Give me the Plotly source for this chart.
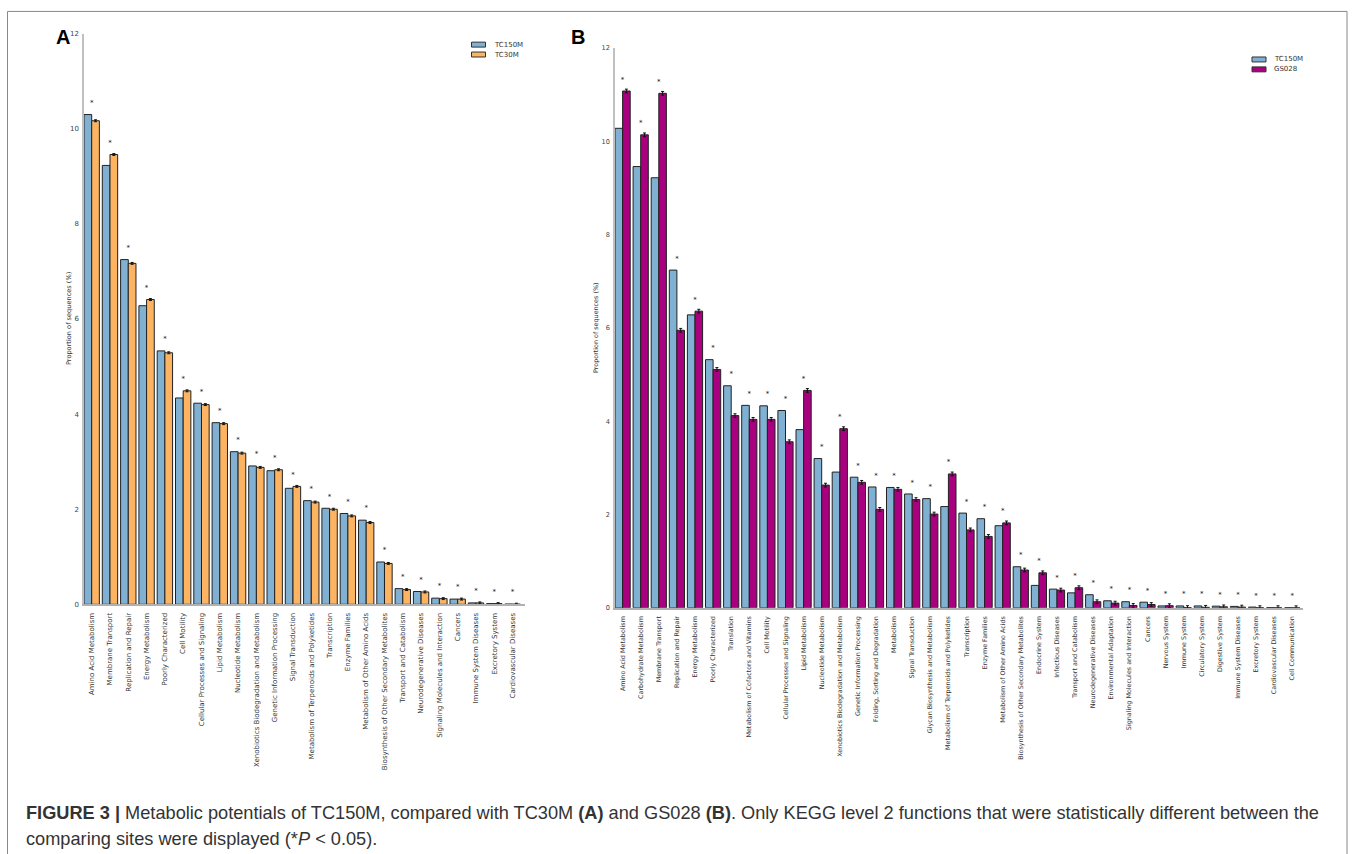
import plotly.graph_objects as go

W, H = 1355, 854

# ---------------- data ----------------
cats_a = ["Amino Acid Metabolism", "Membrane Transport", "Replication and Repair", "Energy Metabolism",
          "Poorly Characterized", "Cell Motility", "Cellular Processes and Signaling", "Lipid Metabolism",
          "Nucleotide Metabolism", "Xenobiotics Biodegradation and Metabolism", "Genetic Information Processing",
          "Signal Transduction", "Metabolism of Terpenoids and Polyketides", "Transcription", "Enzyme Families",
          "Metabolism of Other Amino Acids", "Biosynthesis of Other Secondary Metabolites",
          "Transport and Catabolism", "Neurodegenerative Diseases", "Signaling Molecules and Interaction",
          "Cancers", "Immune System Diseases", "Excretory System", "Cardiovascular Diseases"]
tc150m_a = [10.30, 9.23, 7.25, 6.28, 5.33, 4.34, 4.23, 3.82, 3.21, 2.91, 2.81, 2.44, 2.18, 2.02, 1.91,
            1.77, 0.89, 0.33, 0.27, 0.13, 0.11, 0.03, 0.015, 0.005]
tc30m_a = [10.17, 9.46, 7.17, 6.41, 5.29, 4.49, 4.20, 3.80, 3.18, 2.88, 2.83, 2.48, 2.15, 2.00, 1.86,
           1.72, 0.86, 0.31, 0.26, 0.12, 0.11, 0.03, 0.015, 0.003]

cats_b = ["Amino Acid Metabolism", "Carbohydrate Metabolism", "Membrane Transport", "Replication and Repair",
          "Energy Metabolism", "Poorly Characterized", "Translation", "Metabolism of Cofactors and Vitamins",
          "Cell Motility", "Cellular Processes and Signaling", "Lipid Metabolism", "Nucleotide Metabolism",
          "Xenobiotics Biodegradation and Metabolism", "Genetic Information Processing",
          "Folding, Sorting and Degradation", "Metabolism", "Signal Transduction",
          "Glycan Biosynthesis and Metabolism", "Metabolism of Terpenoids and Polyketides", "Transcription",
          "Enzyme Families", "Metabolism of Other Amino Acids", "Biosynthesis of Other Secondary Metabolites",
          "Endocrine System", "Infectious Diseases", "Transport and Catabolism", "Neurodegenerative Diseases",
          "Environmental Adaptation", "Signaling Molecules and Interaction", "Cancers", "Nervous System",
          "Immune System", "Circulatory System", "Digestive System", "Immune System Diseases",
          "Excretory System", "Cardiovascular Diseases", "Cell Communication"]
tc150m_b = [10.28, 9.46, 9.22, 7.24, 6.28, 5.32, 4.76, 4.34, 4.33, 4.23, 3.82, 3.20, 2.91, 2.80, 2.59,
            2.58, 2.44, 2.34, 2.17, 2.03, 1.91, 1.76, 0.88, 0.48, 0.40, 0.32, 0.28, 0.15, 0.13, 0.12,
            0.04, 0.04, 0.04, 0.035, 0.03, 0.015, 0.005, 0.003]
gs028_b = [11.08, 10.14, 11.03, 5.95, 6.36, 5.11, 4.12, 4.04, 4.04, 3.56, 4.66, 2.63, 3.84, 2.69, 2.11,
           2.54, 2.32, 2.01, 2.87, 1.67, 1.53, 1.82, 0.81, 0.75, 0.38, 0.43, 0.13, 0.10, 0.05, 0.07,
           0.045, 0.005, 0.01, 0.02, 0.015, 0.003, 0.003, 0.001]

y_ticks = [0, 2, 4, 6, 8, 10, 12]

BLUE = "#80b1d3"
ORANGE = "#fdb462"
MAGENTA = "#a8007e"
TICKFONT = "DejaVu Sans"


def px(x):
    return x / W


def py(y):
    return 1 - y / H


BW = 0.42
fig = go.Figure()


def add_panel(cats, s1, s2, c2, name1, name2, xa, ya, err):
    fig.add_trace(go.Bar(x=cats, y=s1, name=name1, marker=dict(color=BLUE, line=dict(color="#222", width=1)),
                         width=BW, offset=-BW, xaxis=xa, yaxis=ya, showlegend=False))
    fig.add_trace(go.Bar(x=cats, y=s2, name=name2, marker=dict(color=c2, line=dict(color="#222", width=1)),
                         width=BW, offset=0, xaxis=xa, yaxis=ya, showlegend=False,
                         error_y=dict(type="constant", value=err, color="#111", thickness=1, width=1.5)))
    star_y = [max(a, b) + 0.24 for a, b in zip(s1, s2)]
    fig.add_trace(go.Scatter(x=cats, y=star_y, mode="text", text=["*"] * len(cats),
                             textfont=dict(size=7, color="#111", family=TICKFONT),
                             textposition="middle center", xaxis=xa, yaxis=ya, showlegend=False,
                             hoverinfo="skip"))


add_panel(cats_a, tc150m_a, tc30m_a, ORANGE, "TC150M", "TC30M", "x", "y", 0.02)
add_panel(cats_b, tc150m_b, gs028_b, MAGENTA, "TC150M", "GS028", "x2", "y2", 0.04)

# panel geometry (pixels)
A_x0, A_x1, A_y0, A_y1 = 84, 525, 606, 30
B_x0, B_x1, B_y0, B_y1 = 615, 1303, 609.5, 44.5
pitch_a = 18.3
pitch_b = 18.1

xcommon = dict(type="category", showgrid=False, zeroline=False, ticks="", tickangle=-90,
               showline=True, linecolor="#b0b0b0", linewidth=1.5, ticklabelstandoff=4)
ycommon = dict(range=[0, 12], tickvals=y_ticks, showgrid=False, zeroline=False, ticks="",
               showline=True, linecolor="#c0c0c0", linewidth=1.5, ticklabelstandoff=2)

fig.update_layout(
    width=W, height=H, margin=dict(l=0, r=0, t=0, b=0), autosize=False,
    paper_bgcolor="white", plot_bgcolor="white", showlegend=False,
    xaxis=dict(domain=[px(A_x0), px(A_x1)], anchor="y",
               range=[-BW, -BW + (A_x1 - A_x0) / pitch_a],
               tickfont=dict(size=7, color="#333", family=TICKFONT), **xcommon),
    yaxis=dict(domain=[py(A_y0), py(A_y1)], anchor="x",
               tickfont=dict(size=7, color="#444", family=TICKFONT), **ycommon),
    xaxis2=dict(domain=[px(B_x0), px(B_x1)], anchor="y2",
                range=[-BW, -BW + (B_x1 - B_x0) / pitch_b],
                tickfont=dict(size=6.4, color="#333", family=TICKFONT), **xcommon),
    yaxis2=dict(domain=[py(B_y0), py(B_y1)], anchor="x2",
                tickfont=dict(size=6.6, color="#444", family=TICKFONT), **ycommon),
)

ann = []
shapes = []
# y-axis titles
ann.append(dict(x=px(63), y=py((A_y0 + A_y1) / 2), xref="paper", yref="paper", text="Proportion of sequences (%)",
                textangle=-90, showarrow=False, font=dict(size=6.6, color="#333", family=TICKFONT)))
ann.append(dict(x=px(596), y=py((B_y0 + B_y1) / 2), xref="paper", yref="paper", text="Proportion of sequences (%)",
                textangle=-90, showarrow=False, font=dict(size=6.4, color="#333", family=TICKFONT)))
# panel letters
ann.append(dict(x=px(54), y=py(33), xref="paper", yref="paper", text="<b>A</b>", showarrow=False,
                xanchor="left", yanchor="middle", font=dict(size=20, color="#000", family="Liberation Sans")))
ann.append(dict(x=px(569), y=py(33), xref="paper", yref="paper", text="<b>B</b>", showarrow=False,
                xanchor="left", yanchor="middle", font=dict(size=20, color="#000", family="Liberation Sans")))

# legends
def legend(x0, y0, items):
    for i, (lab, col) in enumerate(items):
        yc = y0 + i * 10
        shapes.append(dict(type="rect", xref="paper", yref="paper", x0=px(x0), x1=px(x0 + 14),
                           y0=py(yc - 2.5), y1=py(yc + 2.5), fillcolor=col, line=dict(color="#333", width=1)))
        ann.append(dict(x=px(x0 + 20), y=py(yc), xref="paper", yref="paper", text=lab, showarrow=False,
                        xanchor="left", yanchor="middle", font=dict(size=7, color="#333", family=TICKFONT)))


legend(471.5, 41, [("TC150M", BLUE), ("TC30M", ORANGE)])
legend(1252, 56, [("TC150M", BLUE), ("GS028", MAGENTA)])

# caption
capfont = dict(size=18.2, color="#333", family="Liberation Sans Narrow, Arial Narrow, Liberation Sans, sans-serif")
ann.append(dict(x=px(24), y=py(817), xref="paper", yref="paper", showarrow=False, xanchor="left", yanchor="middle",
                text="<b>FIGURE 3 |</b> Metabolic potentials of TC150M, compared with TC30M <b>(A)</b> and GS028 "
                     "<b>(B)</b>. Only KEGG level 2 functions that were statistically different between the",
                font=capfont))
ann.append(dict(x=px(24), y=py(843), xref="paper", yref="paper", showarrow=False, xanchor="left", yanchor="middle",
                text="comparing sites were displayed (*<i>P</i> &lt; 0.05).", font=capfont))

# outer border
shapes.append(dict(type="rect", xref="paper", yref="paper", x0=px(7.5), x1=px(1347), y0=py(870), y1=py(7.5),
                   line=dict(color="#888", width=1), fillcolor="rgba(0,0,0,0)", layer="below"))

fig.update_layout(annotations=ann, shapes=shapes)
fig.write_html("out.html", config={"displayModeBar": False},
               post_script="document.body.style.margin='0px';document.body.style.padding='0px';")
